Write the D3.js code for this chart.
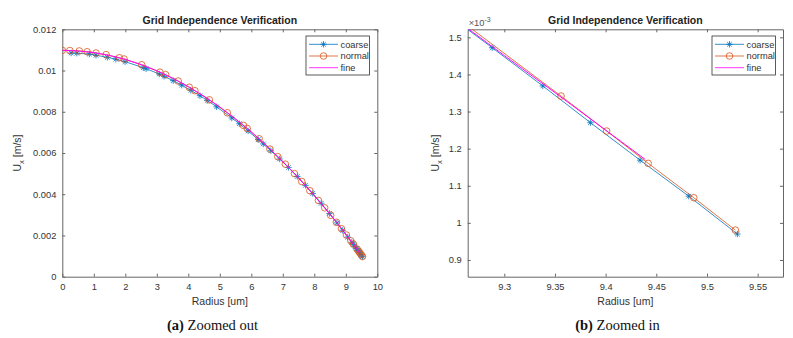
<!DOCTYPE html>
<html>
<head>
<meta charset="utf-8">
<script src="https://cdn.jsdelivr.net/npm/d3@7"></script>
<style>
  body { margin: 0; background: #fff; }
  svg { display: block; }
  text { font-family: "Liberation Sans", Arial, sans-serif; }
</style>
</head>
<body>
<div id="chart"></div>
<script>
// radius [um] and axial velocity [m/s]
const coarseR = [0.28, 0.46, 0.86, 1.07, 1.43, 1.70, 1.99, 2.57, 2.66, 3.08, 3.23, 3.52, 3.79, 4.08,
  4.37, 4.60, 4.90, 5.38, 5.62, 5.90, 6.22, 6.38, 6.62, 6.90, 7.18, 7.46, 7.72, 7.95,
  8.22, 8.48, 8.72, 8.90, 9.06, 9.19, 9.24, 9.288, 9.338, 9.385, 9.434, 9.482, 9.530];
const coarseU = [0.01085, 0.01084, 0.01080, 0.01074, 0.01064, 0.01055, 0.01043, 0.01014, 0.01009, 0.00983, 0.00972, 0.00951, 0.00929, 0.00904,
  0.00878, 0.00855, 0.00824, 0.00770, 0.00742, 0.00707, 0.00665, 0.00644, 0.00611, 0.00571, 0.00530, 0.00486, 0.00443, 0.00404,
  0.00356, 0.00307, 0.00261, 0.00225, 0.00192, 0.00167, 0.00157, 0.001472, 0.001369, 0.001270, 0.001169, 0.001072, 0.000970];

const normalR = [0, 0.24, 0.54, 0.79, 1.07, 1.39, 1.81, 1.96, 2.52, 3.10,
  3.28, 3.68, 4.03, 4.21, 4.67, 5.24, 5.75, 5.87, 6.25, 6.59,
  6.84, 7.08, 7.37, 7.60, 7.86, 8.13, 8.33, 8.52, 8.70, 8.86,
  9.02, 9.16, 9.24, 9.356, 9.401, 9.442, 9.487, 9.528];
const normalU = [0.01098, 0.01097, 0.01095, 0.01091, 0.01085, 0.01077, 0.01062, 0.01056, 0.01028, 0.00992,
  0.00980, 0.00949, 0.00919, 0.00902, 0.00858, 0.00795, 0.00734, 0.00719, 0.00669, 0.00619,
  0.00582, 0.00546, 0.00500, 0.00462, 0.00417, 0.00370, 0.00334, 0.00298, 0.00264, 0.00233,
  0.00202, 0.00174, 0.00158, 0.0013418, 0.0012474, 0.0011604, 0.0010677, 0.0009806];

const fineR = [0, 0.5, 1.0, 1.5, 2.0, 2.5, 3.0, 3.5, 4.0, 4.5, 5.0, 5.5, 6.0, 6.5,
  7.0, 7.5, 8.0, 8.5, 8.8, 9.0, 9.1, 9.2, 9.25, 9.30, 9.35, 9.40, 9.439];
const fineU = [0.01098, 0.01095, 0.01087, 0.01073, 0.01054, 0.01029, 0.00999, 0.00963, 0.00922, 0.00875, 0.00823, 0.00765, 0.00702, 0.00633,
  0.00559, 0.00479, 0.00393, 0.00303, 0.00246, 0.00206, 0.00186, 0.00166, 0.001552, 0.001451, 0.001351, 0.001250, 0.001171];

const seriesNames = ["coarse", "normal", "fine"];

// zoomed out axes
const outXTicks = [0, 1, 2, 3, 4, 5, 6, 7, 8, 9, 10];
const outYTicks = [0, 0.002, 0.004, 0.006, 0.008, 0.01, 0.012];
const outYLabels = ["0", "0.002", "0.004", "0.006", "0.008", "0.01", "0.012"];

// zoomed in axes
const inXTicks = [9.3, 9.35, 9.4, 9.45, 9.5, 9.55];
const inXLabels = ["9.3", "9.35", "9.4", "9.45", "9.5", "9.55"];
const inYTicks = [0.0009, 0.001, 0.0011, 0.0012, 0.0013, 0.0014, 0.0015];
const inYLabels = ["0.9", "1", "1.1", "1.2", "1.3", "1.4", "1.5"];

const colors = { coarse: "#0072BD", normal: "#D95319", fine: "#FF00FF" };
const axisColor = "#666";
const textColor = "#333";

let svg = d3.select("#chart").append("svg").attr("width", 793).attr("height", 338);

let series = [
  { name: "coarse", pts: coarseR.map((r, i) => ({ r: r, u: coarseU[i] })) },
  { name: "normal", pts: normalR.map((r, i) => ({ r: r, u: normalU[i] })) },
  { name: "fine", pts: fineR.map((r, i) => ({ r: r, u: fineU[i] })) }
];

const starPath = "M-3.2,0L3.2,0M0,-3.2L0,3.2M-2.3,-2.3L2.3,2.3M-2.3,2.3L2.3,-2.3";

function drawPanel(cfg) {
  let x = d3.scaleLinear().domain(cfg.xDomain).range([cfg.left, cfg.right]);
  let y = d3.scaleLinear().domain(cfg.yDomain).range([cfg.bottom, cfg.top]);
  let g = svg.append("g");

  // clip to plot area
  g.append("clipPath").attr("id", cfg.id + "-clip")
    .append("rect")
    .attr("x", cfg.left).attr("y", cfg.top)
    .attr("width", cfg.right - cfg.left).attr("height", cfg.bottom - cfg.top);

  // axes, ticks pointing inward like matlab
  let xb = g.append("g").attr("transform", `translate(0,${cfg.bottom})`)
    .call(d3.axisBottom(x).tickValues(cfg.xTicks).tickFormat((d, i) => cfg.xLabels[i])
      .tickSizeInner(-3).tickSizeOuter(0).tickPadding(7));
  let xt = g.append("g").attr("transform", `translate(0,${cfg.top})`)
    .call(d3.axisTop(x).tickValues(cfg.xTicks).tickFormat("").tickSizeInner(-3).tickSizeOuter(0));
  let yl = g.append("g").attr("transform", `translate(${cfg.left},0)`)
    .call(d3.axisLeft(y).tickValues(cfg.yTicks).tickFormat((d, i) => cfg.yLabels[i])
      .tickSizeInner(-3).tickSizeOuter(0).tickPadding(6));
  let yr = g.append("g").attr("transform", `translate(${cfg.right},0)`)
    .call(d3.axisRight(y).tickValues(cfg.yTicks).tickFormat("").tickSizeInner(-3).tickSizeOuter(0));
  [xb, xt, yl, yr].forEach((a) => {
    a.selectAll("path, line").attr("stroke", axisColor);
    a.selectAll("text").attr("fill", textColor).style("font-size", "9.3px")
      .style("font-family", '"Liberation Sans", Arial, sans-serif');
  });

  let plot = g.append("g").attr("clip-path", `url(#${cfg.id}-clip)`);
  let line = d3.line().x((d) => x(d.r)).y((d) => y(d.u));

  series.forEach((s) => {
    plot.append("path").datum(s.pts)
      .attr("d", line)
      .attr("fill", "none")
      .attr("stroke", colors[s.name])
      .attr("stroke-width", s.name === "fine" ? 1 : 0.8);
    if (s.name === "coarse") {
      plot.selectAll(".star").data(s.pts).enter().append("path")
        .attr("transform", (d) => `translate(${x(d.r)},${y(d.u)})`)
        .attr("d", starPath)
        .attr("stroke", colors.coarse).attr("stroke-width", 0.8).attr("fill", "none");
    }
    if (s.name === "normal") {
      plot.selectAll(".ring").data(s.pts).enter().append("circle")
        .attr("cx", (d) => x(d.r)).attr("cy", (d) => y(d.u)).attr("r", 3.3)
        .attr("stroke", colors.normal).attr("stroke-width", 0.8).attr("fill", "none");
    }
  });

  // title and labels
  let cx = (cfg.left + cfg.right) / 2;
  g.append("text").attr("x", cx).attr("y", 24).attr("text-anchor", "middle")
    .style("font-size", "10.5px").style("font-weight", "bold").attr("fill", "#222")
    .text("Grid Independence Verification");
  g.append("text").attr("x", cx).attr("y", 305).attr("text-anchor", "middle")
    .style("font-size", "10.5px").attr("fill", textColor).text("Radius [um]");

  let yLab = g.append("text")
    .attr("transform", `translate(${cfg.yLabelX},${(cfg.top + cfg.bottom) / 2}) rotate(-90)`)
    .attr("text-anchor", "middle").style("font-size", "10.5px").attr("fill", textColor);
  yLab.append("tspan").text("U");
  yLab.append("tspan").attr("dy", 3).style("font-size", "7.5px").text("x");
  yLab.append("tspan").attr("dy", -3).text(" [m/s]");

  if (cfg.exponent) {
    let ex = g.append("text").attr("x", cfg.left + 1).attr("y", 26)
      .style("font-size", "9.3px").attr("fill", "#555");
    ex.append("tspan").text("\u00d710");
    ex.append("tspan").attr("dy", -4).style("font-size", "7px").text("-3");
  }

  // legend
  let lg = g.append("g");
  lg.append("rect").attr("x", cfg.legendX).attr("y", 36).attr("width", 63.5).attr("height", 39)
    .attr("fill", "#fff").attr("stroke", "#333").attr("stroke-width", 0.8);
  seriesNames.forEach((name, i) => {
    let ly = 44.3 + i * 11.7;
    lg.append("line").attr("x1", cfg.legendX + 3).attr("x2", cfg.legendX + 32)
      .attr("y1", ly).attr("y2", ly).attr("stroke", colors[name]).attr("stroke-width", 0.8);
    if (name === "coarse") {
      lg.append("path").attr("transform", `translate(${cfg.legendX + 17.5},${ly})`).attr("d", starPath)
        .attr("stroke", colors.coarse).attr("stroke-width", 0.8).attr("fill", "none");
    }
    if (name === "normal") {
      lg.append("circle").attr("cx", cfg.legendX + 17.5).attr("cy", ly).attr("r", 3.3)
        .attr("stroke", colors.normal).attr("stroke-width", 0.8).attr("fill", "none");
    }
    lg.append("text").attr("x", cfg.legendX + 34.5).attr("y", ly + 3.3)
      .style("font-size", "9.3px").attr("fill", textColor).text(name);
  });

  // caption under the panel
  let cap = svg.append("text").attr("x", cfg.captionX).attr("y", 330).attr("text-anchor", "middle")
    .style("font-family", '"Liberation Serif", "Times New Roman", serif').style("font-size", "14.5px")
    .attr("fill", "#111");
  cap.append("tspan").style("font-weight", "bold").text(cfg.captionTag);
  cap.append("tspan").text(" " + cfg.captionText);
}

drawPanel({
  id: "out", left: 62.3, right: 377.3, top: 29.3, bottom: 276.7,
  xDomain: [0, 10], yDomain: [0, 0.012],
  xTicks: outXTicks, xLabels: outXTicks.map(String), yTicks: outYTicks, yLabels: outYLabels,
  yLabelX: 20.5, legendX: 306, exponent: false,
  captionX: 212.5, captionTag: "(a)", captionText: "Zoomed out"
});

drawPanel({
  id: "in", left: 467.7, right: 783, top: 29.3, bottom: 276.7,
  xDomain: [9.2639, 9.575], yDomain: [0.000855, 0.0015216],
  xTicks: inXTicks, xLabels: inXLabels, yTicks: inYTicks, yLabels: inYLabels,
  yLabelX: 438.5, legendX: 712, exponent: true,
  captionX: 617.5, captionTag: "(b)", captionText: "Zoomed in"
});
</script>
</body>
</html>
